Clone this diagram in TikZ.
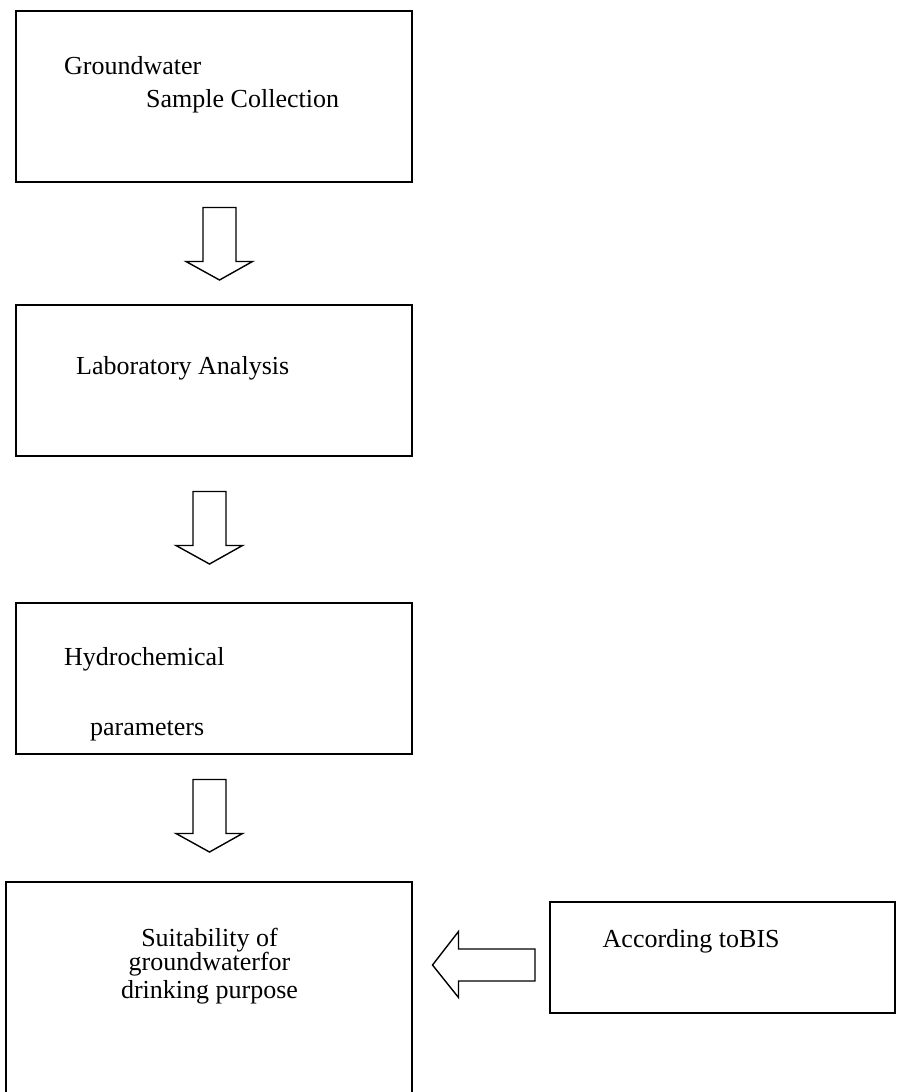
\documentclass[tikz,border=0pt]{standalone}
\usepackage{fontspec}
\setmainfont{Liberation Serif}
\begin{document}
\begin{tikzpicture}[x=1pt,y=-1pt,
  box/.style={draw=black,line width=2pt,inner sep=0pt},
  blockarrow/.style={draw=black,line width=1.4pt,line join=miter,fill=white},
  lbl/.style={inner sep=0pt,anchor=base west,font=\fontsize{26}{28}\selectfont},
  clbl/.style={inner sep=0pt,anchor=base,font=\fontsize{26}{28}\selectfont}]
\useasboundingbox (0,0) rectangle (899,1092);
\clip (0,0) rectangle (899,1092);
% boxes
\path[box] (15.5,11) rectangle (411.5,182);
\path[box] (15.5,305) rectangle (412,455.5);
\path[box] (15.5,603) rectangle (412,753.5);
\path[box] (6,881.5) rectangle (412,1110);
\path[box] (550,901.5) rectangle (895,1012.5);
% texts
\node[lbl] (t1a) at (64,74) {Groundwater};
\node[lbl] (t1b) at (146,107) {Sample Collection};
\node[lbl] (t2) at (76,374) {Laboratory Analysis};
\node[lbl] (t3a) at (64,665) {Hydrochemical};
\node[lbl] (t3b) at (90,735.5) {parameters};
\node[clbl] (t4a) at (209.5,946) {Suitability of};
\node[clbl] (t4b) at (209.5,970) {groundwaterfor};
\node[clbl] (t4c) at (209.5,998) {drinking purpose};
\node[lbl] (t5) at (602.5,947) {According toBIS};
% block arrows
\draw[blockarrow] (203,207.5) -- (236,207.5) -- (236,261.5) -- (252.5,261.5) -- (219.5,280) -- (186,261.5) -- (203,261.5) -- cycle;
\draw[blockarrow] (193,491.5) -- (226,491.5) -- (226,545.5) -- (242.5,545.5) -- (209.5,564) -- (176,545.5) -- (193,545.5) -- cycle;
\draw[blockarrow] (193,779.5) -- (226,779.5) -- (226,833.5) -- (242.5,833.5) -- (209.5,852) -- (176,833.5) -- (193,833.5) -- cycle;
\draw[blockarrow] (535,949) -- (535,981) -- (458.5,981) -- (458.5,997.5) -- (432.5,965) -- (458.5,931.5) -- (458.5,949) -- cycle;
\end{tikzpicture}
\end{document}
